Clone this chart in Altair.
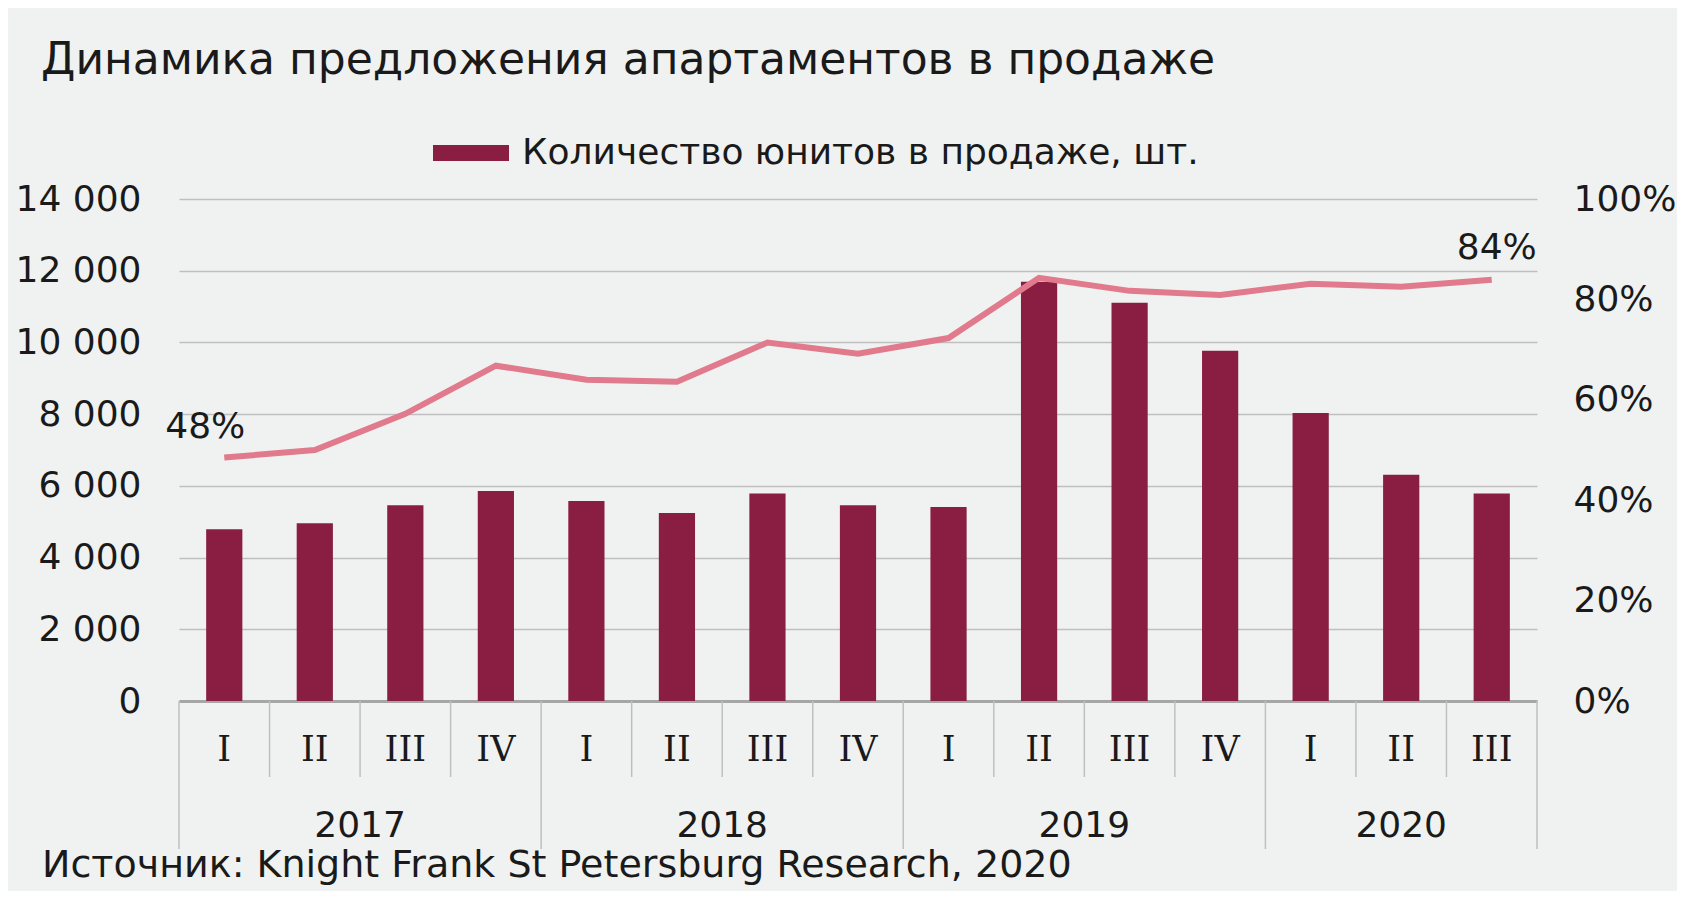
import altair as alt
import pandas as pd

# ---- data ----
years = ["2017"] * 4 + ["2018"] * 4 + ["2019"] * 4 + ["2020"] * 3
quarters = ["I", "II", "III", "IV", "I", "II", "III", "IV", "I", "II", "III", "IV", "I", "II", "III"]
units = [4790, 4960, 5460, 5860, 5580, 5240, 5790, 5460, 5410, 11690, 11110, 9770, 8030, 6310, 5790]
share = [48.5, 50.0, 57.2, 66.8, 64.0, 63.6, 71.4, 69.2, 72.3, 84.3, 81.7, 80.9, 83.1, 82.5, 83.9]
share_labels = ["48%", "", "", "", "", "", "", "", "", "", "", "", "", "", "84%"]
year_labels = ["2017", "2018", "2019", "2020"]

title_text = "Динамика предложения апартаментов в продаже"
legend_name = "Количество юнитов в продаже, шт."
source_text = "Источник: Knight Frank St Petersburg Research, 2020"

keys = [f"{y} {q}" for y, q in zip(years, quarters)]
df = pd.DataFrame({"key": keys, "year": years, "q": quarters, "units": units,
                   "share": share, "lab": share_labels, "series": legend_name})
df["first"] = df["q"] == "I"

FONT = "DejaVu Sans"
TXT = "#1a1a1a"
GRID = "#bfbfbf"
W, H = 1358, 502

xsc = alt.Scale(domain=keys, paddingInner=0, paddingOuter=0)
base = alt.Chart(df)

bars = base.mark_bar(width=alt.RelativeBandSize(0.4)).encode(
    x=alt.X("key:N", scale=xsc, sort=keys,
            axis=alt.Axis(labels=False, ticks=False, title=None, grid=False,
                          domainColor="#a6a6a6", domainWidth=3)),
    y=alt.Y("units:Q", scale=alt.Scale(domain=[0, 14000]),
            axis=alt.Axis(values=list(range(0, 14001, 2000)), title=None, ticks=False,
                          domain=False, gridColor=GRID, gridWidth=1.5,
                          labelFont=FONT, labelFontSize=36, labelColor=TXT, labelPadding=38,
                          labelExpr="replace(format(datum.value, ','), ',', ' ')")),
    color=alt.Color("series:N", scale=alt.Scale(range=["#8a1e42"]),
                    legend=alt.Legend(title=None, orient="none", legendX=254, legendY=-84,
                                      symbolType="M-1,-0.21L1,-0.21L1,0.21L-1,0.21Z",
                                      symbolSize=5776, symbolStrokeWidth=0, symbolOpacity=1,
                                      labelFont=FONT, labelFontSize=36, labelColor=TXT,
                                      labelOffset=13, padding=0, labelLimit=1000)),
)

line = base.mark_line(color="#e07a8c", strokeWidth=6).encode(
    x=alt.X("key:N", scale=xsc, sort=keys),
    y=alt.Y("share:Q", scale=alt.Scale(domain=[0, 100]),
            axis=alt.Axis(orient="right", values=list(range(0, 101, 20)), title=None,
                          ticks=False, domain=False, grid=False,
                          labelFont=FONT, labelFontSize=36, labelColor=TXT, labelPadding=36,
                          labelExpr="datum.value + '%'")),
)

lab_first = base.transform_filter("datum.lab != '' && datum.q == 'I' && datum.year == '2017'").mark_text(
    font=FONT, fontSize=36, color=TXT, dy=-31, dx=-19, baseline="middle").encode(
    x=alt.X("key:N", scale=xsc, sort=keys),
    y=alt.Y("share:Q", scale=alt.Scale(domain=[0, 100]), axis=None),
    text="lab:N")
lab_last = base.transform_filter("datum.lab != '' && datum.year == '2020'").mark_text(
    font=FONT, fontSize=36, color=TXT, dy=-32, dx=5, baseline="middle").encode(
    x=alt.X("key:N", scale=xsc, sort=keys),
    y=alt.Y("share:Q", scale=alt.Scale(domain=[0, 100]), axis=None),
    text="lab:N")

# multi-level category axis
q_text = base.mark_text(font="DejaVu Serif", fontSize=35, color=TXT, baseline="middle").encode(
    x=alt.X("key:N", scale=xsc, sort=keys), y=alt.value(H + 49), text="q:N")

sep_short = base.transform_filter("!datum.first").mark_rule(color=GRID, strokeWidth=1.5).encode(
    x=alt.X("key:N", scale=xsc, sort=keys, bandPosition=0), y=alt.value(H), y2=alt.value(H + 76))
sep_long = base.transform_filter("datum.first").mark_rule(color=GRID, strokeWidth=1.5).encode(
    x=alt.X("key:N", scale=xsc, sort=keys, bandPosition=0), y=alt.value(H), y2=alt.value(H + 148))
sep_end = base.transform_filter(f"datum.key == '{keys[-1]}'").mark_rule(color=GRID, strokeWidth=1.5).encode(
    x=alt.X("key:N", scale=xsc, sort=keys, bandPosition=1), y=alt.value(H), y2=alt.value(H + 148))

# year labels: centred on each year group
yr_full = base.transform_filter("datum.q == 'III' && datum.year != '2020'").mark_text(
    font=FONT, fontSize=36, color=TXT, baseline="middle").encode(
    x=alt.X("key:N", scale=xsc, sort=keys, bandPosition=0), y=alt.value(H + 125), text="year:N")
yr_last = base.transform_filter("datum.q == 'II' && datum.year == '2020'").mark_text(
    font=FONT, fontSize=36, color=TXT, baseline="middle").encode(
    x=alt.X("key:N", scale=xsc, sort=keys, bandPosition=0.5), y=alt.value(H + 125), text="year:N")

source = alt.Chart(pd.DataFrame({"t": [source_text]})).mark_text(
    font=FONT, fontSize=38, color=TXT, align="left", baseline="middle").encode(
    x=alt.value(-137), y=alt.value(H + 165), text="t:N")

chart = alt.layer(bars, sep_short, sep_long, sep_end, q_text, yr_full, yr_last, source,
                  line, lab_first, lab_last).resolve_scale(y="independent").properties(
    width=W, height=H,
    title=alt.Title(title_text, anchor="start", frame="group", dx=-138, offset=32,
                    font=FONT, fontSize=44, fontWeight="normal", color=TXT),
    autosize=alt.AutoSizeParams(type="none"),
    padding={"left": 171, "top": 191, "right": 140, "bottom": 190},
).configure(background="#f0f2f1").configure_view(stroke=None)

chart.save("out.html", embed_options={"renderer": "svg", "actions": False})
